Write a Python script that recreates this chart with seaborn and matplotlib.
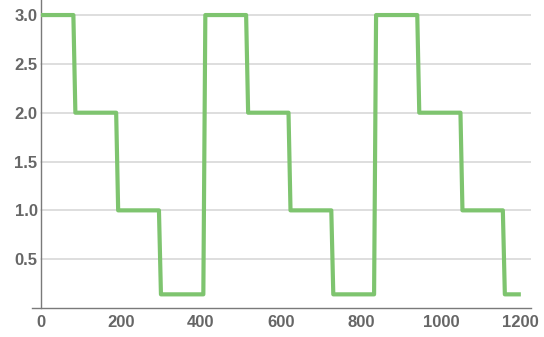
import pandas as pd
import seaborn as sb
import matplotlib.pyplot as plt
from matplotlib.ticker import MultipleLocator, FormatStrFormatter

# step signal: corners of each plateau
step_x = [0, 81, 86, 188, 193, 295, 300, 406, 411, 513, 518, 619, 624, 726, 731,
          833, 838, 941, 946, 1049, 1054, 1155, 1160, 1200]
step_y = [3.0, 3.0, 2.0, 2.0, 1.0, 1.0, 0.14, 0.14, 3.0, 3.0, 2.0, 2.0, 1.0, 1.0, 0.14,
          0.14, 3.0, 3.0, 2.0, 2.0, 1.0, 1.0, 0.14, 0.14]

x_ticks = [0, 200, 400, 600, 800, 1000, 1200]
y_ticks = [0.5, 1.0, 1.5, 2.0, 2.5, 3.0]

sb.set_style('white')
plt.rcParams['font.family'] = ['Liberation Sans', 'DejaVu Sans']

df = pd.DataFrame({'t': step_x, 'v': step_y})

fig = plt.figure(figsize=(5.44, 3.37), dpi=100)
ax = fig.add_axes([0.0588, 0.086, 0.917, 0.914])

xlo, xhi = -22.5, 1225
ax.set_xlim(xlo, xhi)
ax.set_ylim(0, 3.154)

# gridlines start at the y axis, like the original
for yt in y_ticks:
    ax.axhline(yt, xmin=(0 - xlo) / (xhi - xlo), xmax=1, color='#d4d4d4', lw=1.1, zorder=0)

sb.lineplot(data=df, x='t', y='v', color='#7ec46f', linewidth=3.0, sort=False,
            solid_joinstyle='round', solid_capstyle='butt', ax=ax, zorder=3)

ax.set_xlabel('')
ax.set_ylabel('')
ax.spines['top'].set_visible(False)
ax.spines['right'].set_visible(False)
ax.spines['left'].set_position(('data', 0))
for s in ['left', 'bottom']:
    ax.spines[s].set_color('#7a7a7a')
    ax.spines[s].set_linewidth(1.0)

ax.set_xticks(x_ticks)
ax.set_yticks(y_ticks)
ax.yaxis.set_major_formatter(FormatStrFormatter('%.1f'))
ax.yaxis.set_minor_locator(MultipleLocator(0.1))
ax.tick_params(axis='both', which='major', direction='in', length=3.5, width=0.8,
               color='#7a7a7a', labelcolor='#666666', labelsize=12)
ax.tick_params(axis='y', which='minor', direction='in', length=2, width=0.6, color='#7a7a7a')
ax.tick_params(axis='y', which='major', pad=2.5)
ax.tick_params(axis='x', which='major', pad=5)
for lab in ax.get_xticklabels() + ax.get_yticklabels():
    lab.set_fontweight('bold')

fig.savefig('out.png', dpi=100)
